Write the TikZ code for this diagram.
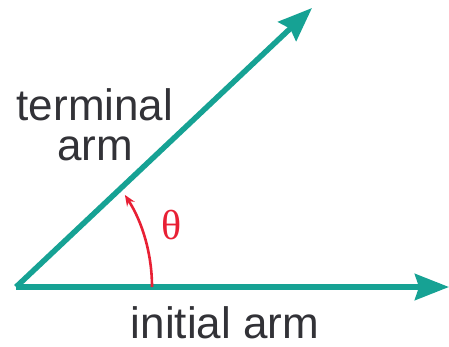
\documentclass[tikz,border=0pt]{standalone}
\usepackage{fontspec}
\setmainfont{Liberation Sans}
\newfontfamily\thetafont{Liberation Serif}
\usetikzlibrary{arrows.meta}
\definecolor{armteal}{RGB}{22,162,148}
\definecolor{anglered}{RGB}{232,32,52}
\definecolor{labelgray}{RGB}{50,50,55}
\begin{document}
\begin{tikzpicture}[x=1pt,y=-1pt,
  armline/.style={draw=armteal,line width=5.5pt,line cap=butt,
    -{Stealth[length=34pt,width=26pt,inset=4pt,fill=armteal]}},
  anglearc/.style={draw=anglered,line width=2.6pt,
    -{Stealth[length=11pt,width=9pt,fill=anglered]}},
  armlabel/.style={text=labelgray,font=\fontsize{44}{40}\selectfont,inner sep=0pt,align=center},
  thetalabel/.style={text=anglered,font=\thetafont\fontsize{42}{42}\selectfont,inner sep=0pt}]
\useasboundingbox (0,0) rectangle (449,346);
\coordinate (O) at (16,287);
\coordinate (I) at (449,287);
\coordinate (T) at (312,8);
\coordinate (S) at (152,287);
\draw[armline] (O) -- (I);
\draw[armline] (O) -- (T);
\draw[anglearc] (S) arc[start angle=0,end angle=-32.8,radius=170];
\node[thetalabel] (th) at (172,225) {θ};
\node[armlabel,anchor=base] (term) at (95,120) {terminal};
\node[armlabel,anchor=base] (arm) at (95,160) {arm};
\node[armlabel,anchor=base] (init) at (225,338) {initial arm};
\end{tikzpicture}
\end{document}
